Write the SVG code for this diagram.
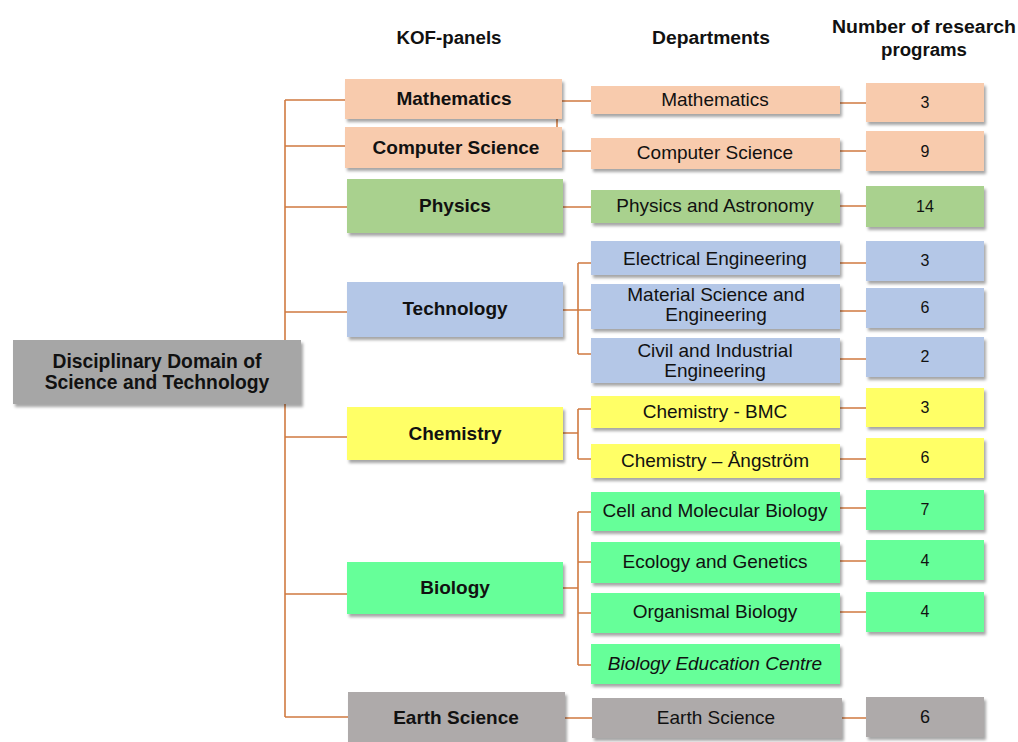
<svg xmlns="http://www.w3.org/2000/svg" width="1018" height="742" viewBox="0 0 1018 742">
<defs>
<filter id="sh" x="-10%" y="-20%" width="130%" height="160%">
<feDropShadow dx="2" dy="3" stdDeviation="1.8" flood-color="#000" flood-opacity="0.35"/>
</filter>
</defs>
<style>
text{font-family:"Liberation Sans",Arial,sans-serif;fill:#111;text-anchor:middle}
.hd{font-size:18px;font-weight:bold}
.kof{font-size:19px;font-weight:bold}
.dep{font-size:19px}
.num{font-size:16px}
.box{filter:url(#sh)}
.peach{fill:#F8CBAD}
.lgreen{fill:#A9D18E}
.blue{fill:#B4C7E7}
.yellow{fill:#FFFF66}
.green{fill:#66FF99}
.grey{fill:#A6A6A6}
.egrey{fill:#AEAAAA}
.c{stroke:#D07A40;stroke-width:1.6;fill:none}
</style>
<rect width="1018" height="742" fill="#fff"/>

<g id="headers">
<text class="hd" x="449" y="44" textLength="105" lengthAdjust="spacingAndGlyphs">KOF-panels</text>
<text class="hd" x="711" y="44" textLength="118" lengthAdjust="spacingAndGlyphs">Departments</text>
<text class="hd" x="924" y="33" textLength="184" lengthAdjust="spacingAndGlyphs">Number of research</text>
<text class="hd" x="924" y="56" textLength="86" lengthAdjust="spacingAndGlyphs">programs</text>
</g>

<g id="connectors">
<path class="c" d="M285 100 V717"/>
<path class="c" d="M285 100 H345 M285 146 H345 M285 207 H347 M285 312 H347 M285 437 H347 M285 594 H347 M285 717 H348"/>
<path class="c" d="M557 119 V127"/>
<path class="c" d="M562 101 H591 M562 151 H591 M563 207 H591 M565 718 H592"/>
<path class="c" d="M563 310 H578 M578 263 V354 M578 263 H591 M578 310 H591 M578 354 H591"/>
<path class="c" d="M563 433 H578 M578 409 V459 M578 409 H591 M578 459 H591"/>
<path class="c" d="M563 588 H578 M578 512 V665 M578 512 H591 M578 562 H591 M578 613 H591 M578 665 H591"/>
<path class="c" d="M840 103 H866 M840 151 H866 M840 206 H866 M840 263 H866 M840 311 H866 M840 359 H866 M840 408 H866 M840 459 H866 M840 508 H866 M840 561 H866 M840 612 H866 M842 718 H866"/>
</g>

<g id="root">
<rect class="box grey" x="13" y="340" width="288" height="64"/>
<text class="kof" x="157" y="368" style="font-size:19.3px">Disciplinary Domain of</text>
<text class="kof" x="157" y="389" style="font-size:19.3px">Science and Technology</text>
</g>

<g id="kof-mathematics"><rect class="box peach" x="345" y="79" width="217" height="40"/><text class="kof" x="454" y="105">Mathematics</text></g>
<g id="kof-computer-science"><rect class="box peach" x="345" y="127" width="217" height="41"/><text class="kof" x="456" y="154">Computer Science</text></g>
<g id="kof-physics"><rect class="box lgreen" x="347" y="179" width="216" height="54"/><text class="kof" x="455" y="212">Physics</text></g>
<g id="kof-technology"><rect class="box blue" x="347" y="282" width="216" height="55"/><text class="kof" x="455" y="315">Technology</text></g>
<g id="kof-chemistry"><rect class="box yellow" x="347" y="407" width="216" height="53"/><text class="kof" x="455" y="440">Chemistry</text></g>
<g id="kof-biology"><rect class="box green" x="347" y="562" width="216" height="52"/><text class="kof" x="455" y="594">Biology</text></g>
<g id="kof-earth-science"><rect class="box egrey" x="348" y="692" width="217" height="54"/><text class="kof" x="456" y="724">Earth Science</text></g>

<g id="dep-mathematics"><rect class="box peach" x="591" y="86" width="249" height="28"/><text class="dep" x="715" y="106">Mathematics</text></g>
<g id="dep-computer-science"><rect class="box peach" x="591" y="138" width="249" height="31"/><text class="dep" x="715" y="159">Computer Science</text></g>
<g id="dep-physics"><rect class="box lgreen" x="591" y="190" width="249" height="33"/><text class="dep" x="715" y="212">Physics and Astronomy</text></g>
<g id="dep-electrical"><rect class="box blue" x="591" y="241" width="249" height="34"/><text class="dep" x="715" y="265">Electrical Engineering</text></g>
<g id="dep-material"><rect class="box blue" x="591" y="284" width="249" height="45"/><text class="dep" x="716" y="301">Material Science and</text><text class="dep" x="716" y="321">Engineering</text></g>
<g id="dep-civil"><rect class="box blue" x="591" y="338" width="249" height="45"/><text class="dep" x="715" y="357">Civil and Industrial</text><text class="dep" x="715" y="377">Engineering</text></g>
<g id="dep-chem-bmc"><rect class="box yellow" x="591" y="396" width="249" height="32"/><text class="dep" x="715" y="418">Chemistry - BMC</text></g>
<g id="dep-chem-angstrom"><rect class="box yellow" x="591" y="444" width="249" height="34"/><text class="dep" x="715" y="467">Chemistry – Ångström</text></g>
<g id="dep-cell"><rect class="box green" x="591" y="492" width="249" height="39"/><text class="dep" x="715" y="517">Cell and Molecular Biology</text></g>
<g id="dep-ecology"><rect class="box green" x="591" y="542" width="249" height="41"/><text class="dep" x="715" y="568">Ecology and Genetics</text></g>
<g id="dep-organismal"><rect class="box green" x="591" y="593" width="249" height="40"/><text class="dep" x="715" y="618">Organismal Biology</text></g>
<g id="dep-bio-education"><rect class="box green" x="591" y="644" width="249" height="40"/><text class="dep" x="715" y="670" font-style="italic">Biology Education Centre</text></g>
<g id="dep-earth-science"><rect class="box egrey" x="592" y="698" width="250" height="40"/><text class="dep" x="716" y="724">Earth Science</text></g>

<g id="num-mathematics"><rect class="box peach" x="866" y="83" width="118" height="39"/><text class="num" x="925" y="108">3</text></g>
<g id="num-computer-science"><rect class="box peach" x="866" y="131" width="118" height="40"/><text class="num" x="925" y="157">9</text></g>
<g id="num-physics"><rect class="box lgreen" x="866" y="186" width="118" height="41"/><text class="num" x="925" y="212">14</text></g>
<g id="num-electrical"><rect class="box blue" x="866" y="241" width="118" height="40"/><text class="num" x="925" y="266">3</text></g>
<g id="num-material"><rect class="box blue" x="866" y="288" width="118" height="40"/><text class="num" x="925" y="313">6</text></g>
<g id="num-civil"><rect class="box blue" x="866" y="337" width="118" height="40"/><text class="num" x="925" y="362">2</text></g>
<g id="num-chem-bmc"><rect class="box yellow" x="866" y="388" width="118" height="39"/><text class="num" x="925" y="413">3</text></g>
<g id="num-chem-angstrom"><rect class="box yellow" x="866" y="438" width="118" height="40"/><text class="num" x="925" y="463">6</text></g>
<g id="num-cell"><rect class="box green" x="866" y="490" width="118" height="40"/><text class="num" x="925" y="515">7</text></g>
<g id="num-ecology"><rect class="box green" x="866" y="540" width="118" height="40"/><text class="num" x="925" y="566">4</text></g>
<g id="num-organismal"><rect class="box green" x="866" y="592" width="118" height="40"/><text class="num" x="925" y="617">4</text></g>
<g id="num-earth-science"><rect class="box egrey" x="866" y="697" width="118" height="40"/><text class="num" x="925" y="723" style="font-size:18px">6</text></g>
</svg>
